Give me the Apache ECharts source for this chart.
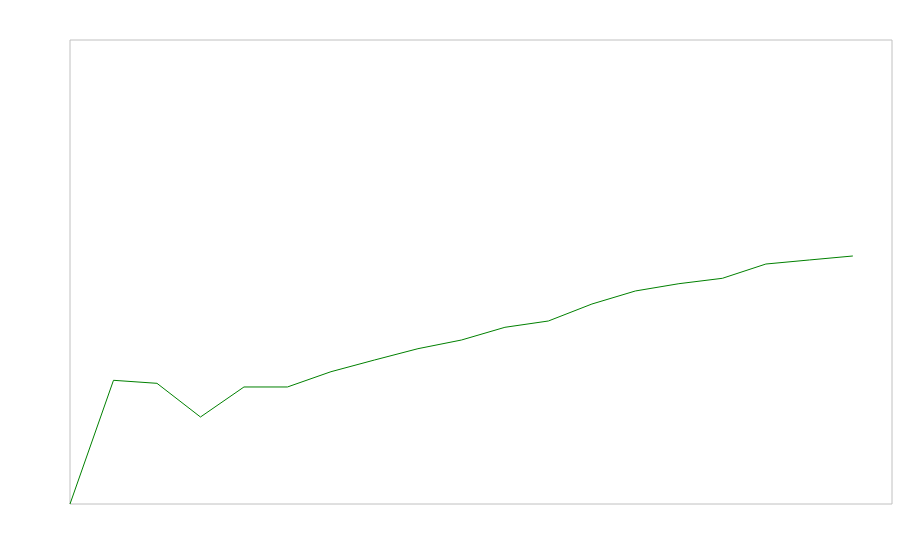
<!DOCTYPE html>
<html>
<head>
<meta charset="utf-8">
<script src="https://cdn.jsdelivr.net/npm/echarts@6/dist/echarts.min.js"></script>
<style>html,body{margin:0;padding:0;background:#fff;}#c{width:900px;height:560px;}</style>
</head>
<body>
<div id="c"></div>
<script>
const xValues = [0,1,2,3,4,5,6,7,8,9,10,11,12,13,14,15,16,17,18];
const yValues = [0,26.66,26.01,18.75,25.22,25.22,28.51,31.03,33.47,35.34,38.08,39.44,43.10,45.91,47.48,48.64,51.72,52.59,53.45];

const chart = echarts.init(document.getElementById('c'), null, {renderer:'canvas'});
chart.setOption({
  animation: false,
  backgroundColor: '#ffffff',
  grid: {left: 70, top: 40, right: 8, bottom: 56, show: true, borderColor: '#c0c0c0', borderWidth: 1, backgroundColor: 'transparent'},
  xAxis: {type: 'value', min: 0, max: 18.9, show: false, splitLine: {show: false}},
  yAxis: {type: 'value', min: 0, max: 100, show: false, splitLine: {show: false}},
  series: [{
    type: 'line',
    data: xValues.map((x, i) => [x, yValues[i]]),
    showSymbol: false,
    lineStyle: {color: '#008000', width: 1},
    itemStyle: {color: '#008000'}
  }]
});
</script>
</body>
</html>
